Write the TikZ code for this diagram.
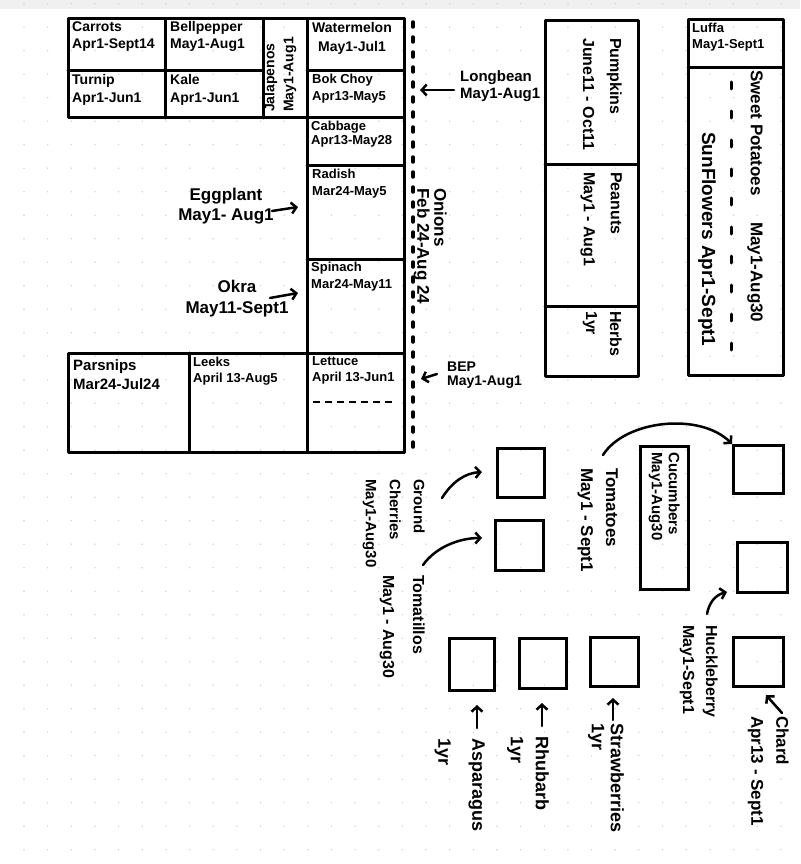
\documentclass[tikz,border=0pt]{standalone}
\usepackage{fontspec}
\setmainfont{Liberation Sans}
\usetikzlibrary{arrows.meta}
\newcommand{\hfs}[2]{\fontsize{#1}{#2}\selectfont\bfseries}
\tikzset{
  bed/.style={line width=3pt, line join=round, line cap=round},
  plotbox/.style={draw, line width=3pt, inner sep=0pt},
  lbl/.style={inner sep=0pt, align=left, anchor=north west},
  vlbl/.style={lbl, rotate=-90},
  ulbl/.style={lbl, rotate=90},
  arr/.style={line width=2.5pt, line cap=round, -{Straight Barb[length=5pt,width=11pt,line width=2.5pt]}},
  fence/.style={line width=3.5pt, line cap=round, dash pattern=on 5pt off 10pt},
}
\begin{document}
\begin{tikzpicture}[x=1pt,y=-1pt]
\useasboundingbox (0,0) rectangle (800,864);
\fill[white] (0,0) rectangle (800,864);
\fill[gray!12] (0,0) rectangle (800,9);
\foreach \i in {0,...,33}{\foreach \j in {0,...,36}{\fill[gray!35] (24+23.65*\i,3.7+23.5*\j) circle (0.8);}}

% ---------- left block ----------
\draw[bed] (68,19) rectangle (404,118);
\draw[bed] (68,71) -- (263,71);
\draw[bed] (307,71) -- (404,71);
\draw[bed] (165,19) -- (165,118);
\draw[bed] (263,19) -- (263,118);
\draw[bed] (307,19) rectangle (404,452);
\draw[bed] (307,165) -- (404,165);
\draw[bed] (307,259) -- (404,259);
\draw[bed] (68,353) rectangle (404,452);
\draw[bed] (189,353) -- (189,452);
\draw[line width=2.5pt, dash pattern=on 7pt off 5pt] (313,402) -- (396,402);
\draw[fence] (413,22) -- (413,456);

\node[lbl, font=\hfs{14}{17}] (carrots) at (72,22) {Carrots\\Apr1-Sept14};
\node[lbl, font=\hfs{14}{17}] (bell) at (170,21) {Bellpepper\\May1-Aug1};
\node[lbl, font=\hfs{14}{19}, align=center] (water) at (312,22) {Watermelon\\May1-Jul1};
\node[lbl, font=\hfs{14}{18}] (turnip) at (72,74) {Turnip\\Apr1-Jun1};
\node[lbl, font=\hfs{14}{18}] (kale) at (170,74) {Kale\\Apr1-Jun1};
\node[lbl, font=\hfs{13}{17}] (bok) at (312,74) {Bok Choy\\Apr13-May5};
\node[ulbl, font=\hfs{14}{19}] (jal) at (264,112) {Jalapenos\\May1-Aug1};
\node[lbl, font=\hfs{13}{14}] (cab) at (311,121) {Cabbage\\Apr13-May28};
\node[lbl, font=\hfs{13}{17}] (rad) at (312,169) {Radish\\Mar24-May5};
\node[lbl, font=\hfs{13}{17}] (spin) at (311,262) {Spinach\\Mar24-May11};
\node[lbl, font=\hfs{15}{19}] (pars) at (73,359) {Parsnips\\Mar24-Jul24};
\node[lbl, font=\hfs{13}{16}] (leek) at (193,357) {Leeks\\April 13-Aug5};
\node[lbl, font=\hfs{13}{16}] (lett) at (312,356) {Lettuce\\April 13-Jun1};
\node[vlbl, font=\hfs{17}{17}] (onion) at (447,188) {Onions\\Feb 24-Aug 24};

\node[lbl, font=\hfs{15}{17}] (lb) at (460,70) {Longbean\\May1-Aug1};
\node[lbl, font=\hfs{14}{14}] (bep) at (447,362) {BEP\\May1-Aug1};
\node[inner sep=0pt, align=center, font=\hfs{17}{20}] (egg) at (226,206) {Eggplant\\May1- Aug1};
\node[inner sep=0pt, align=center, font=\hfs{17}{21}] (okra) at (237,299) {Okra\\May11-Sept1};

\coordinate (lbt) at (454,90);  \coordinate (lbh) at (420,90);
\coordinate (bept) at (437,374); \coordinate (beph) at (421,379);
\coordinate (eggt) at (272,211); \coordinate (eggh) at (298,207);
\coordinate (okrat) at (270,298); \coordinate (okrah) at (298,293);
\draw[arr] (lbt) -- (lbh);
\draw[arr] (bept) -- (beph);
\draw[arr] (eggt) -- (eggh);
\draw[arr] (okrat) -- (okrah);

% ---------- right beds ----------
\draw[bed] (545,21) rectangle (638,376);
\draw[bed] (545,164) -- (638,164);
\draw[bed] (545,306) -- (638,306);
\node[vlbl, font=\hfs{16}{27}] (pump) at (622,38) {Pumpkins\\June11 - Oct11};
\node[vlbl, font=\hfs{16}{27}] (pean) at (622,172) {Peanuts\\May1 - Aug1};
\node[vlbl, font=\hfs{16}{24}] (herb) at (622,311) {Herbs\\1yr};

\draw[bed] (688,20) rectangle (783,375);
\draw[bed] (688,68) -- (783,68);
\draw[line width=3pt, line cap=round, dash pattern=on 7pt off 22pt] (731,82) -- (731,367);
\node[lbl, font=\hfs{13}{16}] (luffa) at (692,23) {Luffa\\May1-Sept1};
\node[vlbl, font=\hfs{17}{17}] (swp) at (763,70) {Sweet Potatoes};
\node[vlbl, font=\hfs{17}{17}] (swd) at (763,222) {May1-Aug30};
\node[vlbl, font=\hfs{19}{21}] (sun) at (716,132) {SunFlowers Apr1-Sept1};

% ---------- squares ----------
\node[plotbox, minimum width=47pt, minimum height=49pt] (gc) at (521,473) {};
\node[plotbox, minimum width=48pt, minimum height=50pt] (tl) at (519,545) {};
\node[plotbox, minimum width=50pt, minimum height=48pt] (sqa) at (758,469) {};
\node[plotbox, minimum width=50pt, minimum height=50pt] (sqd) at (762,567) {};
\node[plotbox, minimum width=50pt, minimum height=49pt] (chsq) at (758,662) {};
\node[plotbox, minimum width=45pt, minimum height=52pt] (asq) at (472,664) {};
\node[plotbox, minimum width=47pt, minimum height=50pt] (rsq) at (543,663) {};
\node[plotbox, minimum width=48pt, minimum height=49pt] (ssq) at (614,662) {};
\node[plotbox, minimum width=143pt, minimum height=48pt, rotate=-90] (cuc) at (664,518) {};

\node[vlbl, font=\hfs{15}{24}] (gcl) at (425,479) {Ground\\Cherries\\May1-Aug30};
\node[vlbl, font=\hfs{16}{30}] (tml) at (425,575) {Tomatillos\\May1 - Aug30};
\node[vlbl, font=\hfs{17}{25}] (tom) at (618,468) {Tomatoes\\May1 - Sept1};
\node[vlbl, font=\hfs{15}{17}] (cucl) at (680,452) {Cucumbers\\May1-Aug30};
\node[vlbl, font=\hfs{16}{23}] (huck) at (718,625) {Huckleberry\\May1-Sept1};
\node[vlbl, font=\hfs{17}{25}] (chard) at (789,716) {Chard\\Apr13 - Sept1};
\node[vlbl, font=\hfs{18}{19}] (straw) at (624,723) {Strawberries\\1yr};
\node[vlbl, font=\hfs{18}{25}] (rhu) at (549,736) {Rhubarb\\1yr};
\node[vlbl, font=\hfs{18}{34}] (aspl) at (485,738) {Asparagus\\1yr};

\coordinate (gct) at (442,498);  \coordinate (gch) at (482,472);
\coordinate (tlt) at (423,565);  \coordinate (tlh) at (482,538);
\coordinate (tomt) at (603,455); \coordinate (tomh) at (732,444);
\coordinate (huckt) at (707,614); \coordinate (huckh) at (727,592);
\coordinate (chardt) at (782,713); \coordinate (chardh) at (766,695);
\coordinate (strawt) at (613,720); \coordinate (strawh) at (613,698);
\coordinate (rhut) at (542,726); \coordinate (rhuh) at (542,703);
\coordinate (aspt) at (477,728); \coordinate (asph) at (477,705);

\draw[arr] (gct) .. controls (452,482) and (465,473) .. (gch);
\draw[arr] (tlt) .. controls (435,548) and (458,538) .. (tlh);
\draw[arr] (tomt) .. controls (625,420) and (700,412) .. (tomh);
\draw[arr] (huckt) .. controls (709,603) and (715,595) .. (huckh);
\draw[arr] (chardt) -- (chardh);
\draw[arr] (strawt) -- (strawh);
\draw[arr] (rhut) -- (rhuh);
\draw[arr] (aspt) -- (asph);
\end{tikzpicture}
\end{document}
